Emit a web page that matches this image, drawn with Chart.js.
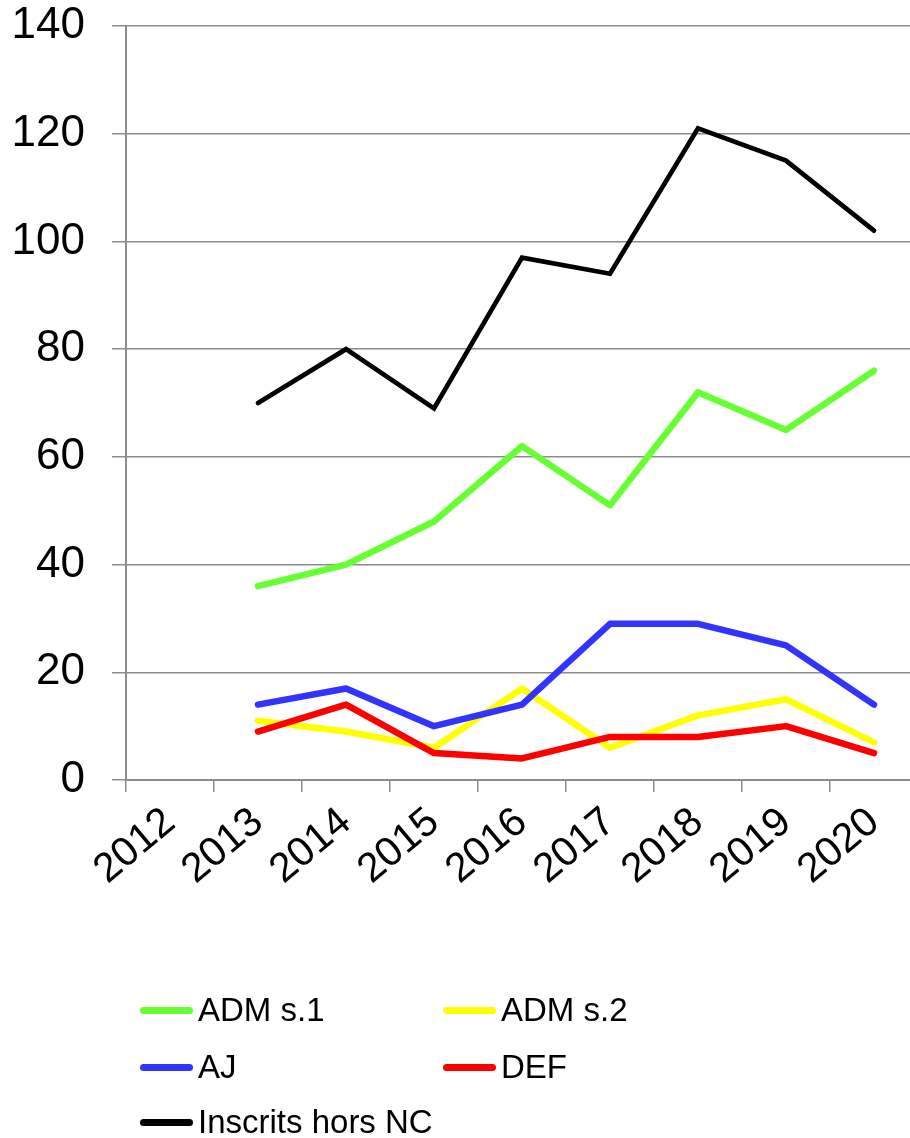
<!DOCTYPE html>
<html>
<head>
<meta charset="utf-8">
<script src="https://cdn.jsdelivr.net/npm/chart.js@4/dist/chart.umd.min.js"></script>
<style>
  html, body { margin: 0; padding: 0; background: #fff; overflow: hidden; }
  body { width: 910px; height: 1138px; position: relative; font-family: "Liberation Sans", Arial, sans-serif; }
  #wrap { position: absolute; left: 0; top: 0; width: 918px; height: 960px; }
  #legend { position: absolute; left: 0; top: 0; width: 910px; height: 1138px; pointer-events: none; }
  .item { position: absolute; display: flex; align-items: center; font-size: 33px; color: #000; white-space: nowrap; }
  .swatch { width: 53px; height: 7px; border-radius: 4px; margin-right: 5px; }
</style>
</head>
<body>
<div id="wrap"><canvas id="chart"></canvas></div>
<div id="legend"></div>
<script>
const years = ['2012', '2013', '2014', '2015', '2016', '2017', '2018', '2019', '2020'];
const adm1 = [null, 36, 40, 48, 62, 51, 72, 65, 76];
const adm2 = [null, 11, 9, 6, 17, 6, 12, 15, 7];
const aj = [null, 14, 17, 10, 14, 29, 29, 25, 14];
const def = [null, 9, 14, 5, 4, 8, 8, 10, 5];
const inscrits = [null, 70, 80, 69, 97, 94, 121, 115, 102];

const names = ['ADM s.1', 'ADM s.2', 'AJ', 'DEF', 'Inscrits hors NC'];
const colors = ['#66ff33', '#ffff00', '#3333ff', '#ff0000', '#000000'];
const series = [adm1, adm2, aj, def, inscrits];

const gridGray = '#8c8c8c';

function load() {
  const datasets = series.map((s, i) => ({
    label: names[i],
    data: s,
    borderColor: colors[i],
    backgroundColor: colors[i],
    borderWidth: i === 4 ? 4.7 : 6.5,
    borderCapStyle: 'round',
    borderJoinStyle: i === 4 ? 'miter' : 'round',
    pointRadius: 0,
    tension: 0,
    fill: false,
    order: series.length - i
  }));

  new Chart(document.getElementById('chart'), {
    type: 'line',
    data: { labels: years, datasets },
    options: {
      responsive: true,
      maintainAspectRatio: false,
      animation: false,
      devicePixelRatio: 1,
      layout: { padding: { top: 26, left: 0, right: 0, bottom: 0 } },
      plugins: { legend: { display: false }, tooltip: { enabled: false } },
      scales: {
        x: {
          offset: true,
          grid: { offset: true, drawOnChartArea: false, drawTicks: true, tickLength: 12, color: gridGray, lineWidth: 1.5 },
          border: { color: gridGray, width: 2 },
          ticks: {
            color: '#000', font: { family: 'Liberation Sans', size: 41 },
            minRotation: 40, maxRotation: 40, autoSkip: false, padding: 6
          },
          afterFit: s => { s.height = 180; }
        },
        y: {
          min: 0, max: 140,
          grid: { color: gridGray, lineWidth: 1.5, tickLength: 14 },
          border: { color: gridGray, width: 2 },
          ticks: {
            stepSize: 20, color: '#000', padding: 27,
            font: { family: 'Liberation Sans', size: 44, lineHeight: 1 }
          },
          afterFit: s => { s.width = 126; s.paddingTop = 0; s.paddingBottom = 0; }
        }
      }
    }
  });

  // legend, two columns like the original
  const pos = [[140, 1010], [443, 1010], [140, 1067], [443, 1067], [140, 1122]];
  const lg = document.getElementById('legend');
  names.forEach((n, i) => {
    const d = document.createElement('div');
    d.className = 'item';
    d.style.left = pos[i][0] + 'px';
    d.style.top = (pos[i][1] - 20) + 'px';
    d.style.height = '40px';
    d.innerHTML = `<span class="swatch" style="background:${colors[i]}"></span><span>${n}</span>`;
    lg.appendChild(d);
  });
}
document.addEventListener('DOMContentLoaded', load);
</script>
</body>
</html>
